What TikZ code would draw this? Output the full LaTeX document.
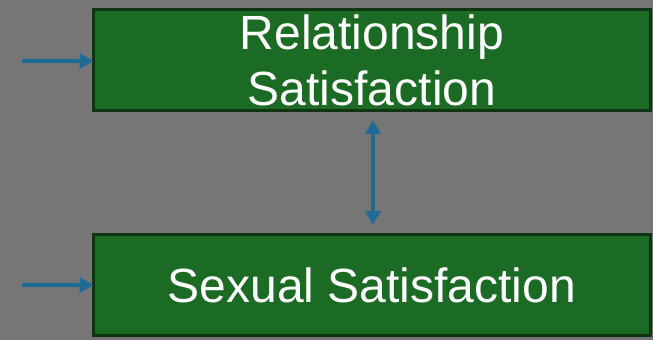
\documentclass[tikz,border=0pt]{standalone}
\usepackage{fontspec}
\setmainfont{Liberation Sans}
\usetikzlibrary{arrows.meta}
\definecolor{bg}{RGB}{118,118,118}
\definecolor{boxfill}{RGB}{27,107,37}
\definecolor{boxline}{RGB}{14,52,18}
\definecolor{arr}{RGB}{31,107,147}
\begin{document}
\begin{tikzpicture}[x=1pt,y=-1pt,
  varbox/.style={draw=boxline,fill=boxfill,line width=3pt,outer sep=0pt,
    minimum width=557pt,minimum height=101pt,inner sep=0pt,
    text=white,align=center,font=\fontsize{48}{56}\selectfont},
  link/.style={draw=arr,line width=4pt,-{Triangle[length=14pt,width=15pt]}},
  dlink/.style={draw=arr,line width=4pt,{Triangle[length=14pt,width=15pt]}-{Triangle[length=14pt,width=15pt]}}]
\useasboundingbox (0,0) rectangle (653,340);
\fill[bg] (0,0) rectangle (653,340);
\node[varbox] (rel) at (372,60) {Relationship\\Satisfaction};
\node[varbox] (sex) at (372,285) {Sexual Satisfaction};
\coordinate (a1) at (22,61);
\coordinate (a2) at (22,285);
\coordinate (d1) at (373,120);
\coordinate (d2) at (373,225);
\draw[link] (a1) -- (a1 -| rel.west);
\draw[link] (a2) -- (a2 -| sex.west);
\draw[dlink] (d1) -- (d2);
\end{tikzpicture}
\end{document}
